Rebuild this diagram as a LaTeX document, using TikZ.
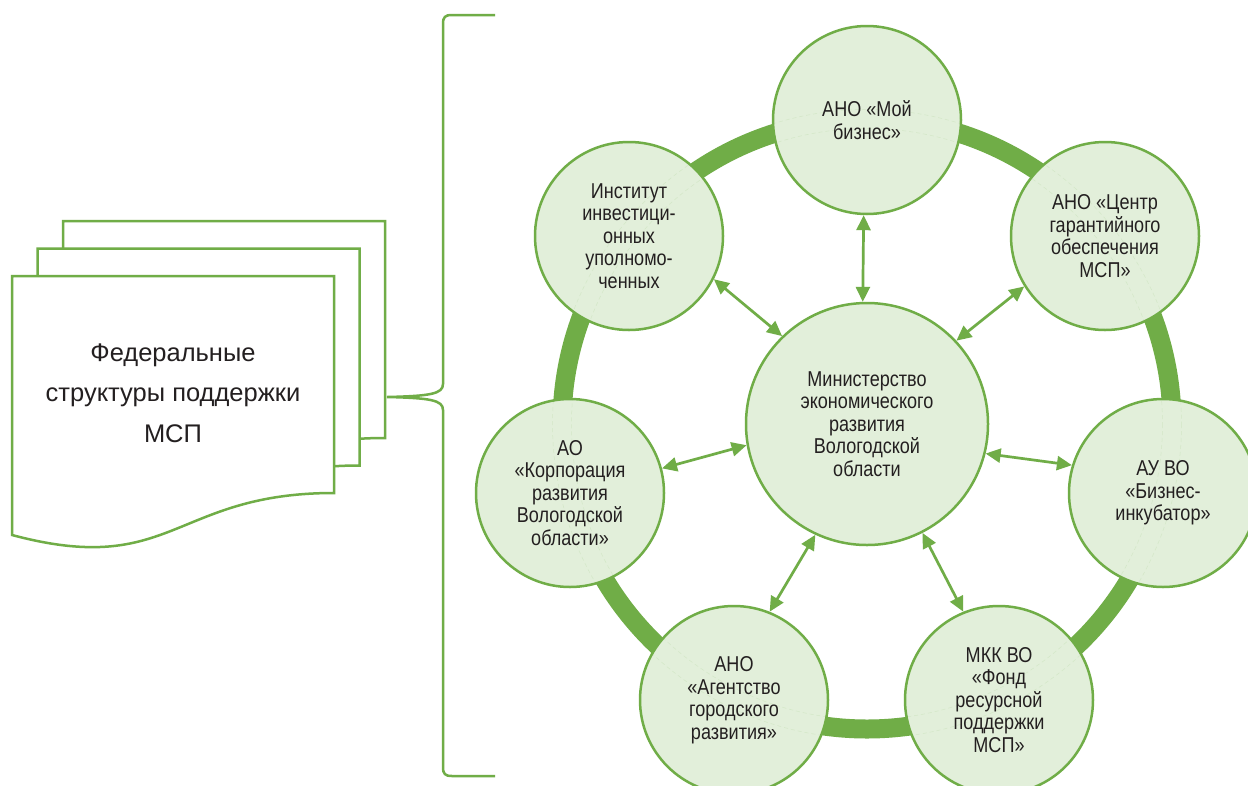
\documentclass[tikz,border=0pt]{standalone}
\usepackage{fontspec}
\setmainfont{Liberation Sans}
\newfontfamily\narrowfont{Liberation Sans}[FakeStretch=0.84]
\usetikzlibrary{arrows.meta}
\definecolor{ogreen}{HTML}{70AD47}
\definecolor{lgreen}{HTML}{E2EFDA}
\definecolor{txt}{HTML}{231F20}
\definecolor{faint}{HTML}{D3E7C7}
\begin{document}
\begin{tikzpicture}[x=1pt,y=-1pt,
  orgbox/.style={circle, draw=ogreen, line width=2.5pt, minimum size=188pt, inner sep=0pt,
    align=center, text=txt, font=\narrowfont\fontsize{21.5}{22.5}\selectfont},
  centerbox/.style={orgbox, minimum size=242pt},
  conn/.style={{Triangle[length=15pt,width=14pt]}-{Triangle[length=15pt,width=14pt]}, draw=ogreen, line width=2.7pt},
  docshape/.style={fill=white, draw=ogreen, line width=2.5pt, line join=miter},
  bracestyle/.style={draw=ogreen, line width=2.5pt},
  faintline/.style={draw=faint, line width=0.5pt, dash pattern=on 4pt off 3pt}
]
\useasboundingbox (0,0) rectangle (1248,785);
\fill[white] (0,0) rectangle (1248,785);

% centres
\coordinate (cC) at (867,424);
\coordinate (cT) at (867,120);
\coordinate (cUL) at (629,236);
\coordinate (cUR) at (1105,236);
\coordinate (cL) at (570,493);
\coordinate (cR) at (1163,493);
\coordinate (cBL) at (734,700);
\coordinate (cBR) at (999,700);

% documents
\foreach \dx/\dy in {51/-55, 25.5/-27.5, 0/0}{
  \draw[docshape, shift={(\dx,\dy)}] (12,276) -- (334,276) -- (334,493)
     .. controls (173,493) and (173,578) .. (12,535) -- cycle;
}
\node[font=\fontsize{25.5}{40.7}\selectfont, align=center, text=txt] (fed) at (173,393)
  {Федеральные\\структуры поддержки\\МСП};

% brace
\coordinate (btip) at (387,397);
\coordinate (btop) at (495,15);
\coordinate (bbot) at (495,776);
\draw[bracestyle] (btop) -- (452,15) .. controls (445,15) and (443,17) .. (443,24) -- (443,384)
   .. controls (443,394) and (430,396) .. (btip)
   .. controls (430,398) and (443,400) .. (443,410) -- (443,767)
   .. controls (443,774) and (445,776) .. (452,776) -- (bbot);

% ring
\draw[ogreen, line width=19pt] (cC) circle (305);

% circle fills and faint ring edges
\foreach \c in {cT,cUL,cUR,cL,cR,cBL,cBR}{
  \fill[lgreen] (\c) circle (94);
  \begin{scope}
    \clip (\c) circle (94);
    \draw[faintline] (cC) circle (295.5);
    \draw[faintline] (cC) circle (314.5);
  \end{scope}
}
\fill[lgreen] (cC) circle (121);

% nodes
\node[centerbox] (C) at (cC) {Министерство\\экономического\\развития\\Вологодской\\области};
\node[orgbox] (T) at (cT) {АНО «Мой\\бизнес»};
\node[orgbox] (UL) at (cUL) {Институт\\инвестици-\\онных\\уполномо-\\ченных};
\node[orgbox] (UR) at (cUR) {АНО «Центр\\гарантийного\\обеспечения\\МСП»};
\node[orgbox] (L) at (cL) {АО\\«Корпорация\\развития\\Вологодской\\области»};
\node[orgbox] (R) at (cR) {АУ ВО\\«Бизнес-\\инкубатор»};
\node[orgbox] (BL) at (cBL) {АНО\\«Агентство\\городского\\развития»};
\node[orgbox] (BR) at (cBR) {МКК ВО\\«Фонд\\ресурсной\\поддержки\\МСП»};

% connectors
\draw[conn] (T.-92) -- (C.92);
\draw[conn] (UL.-27) -- (C.134);
\draw[conn] (UR.212) -- (C.43);
\draw[conn] (R.163) -- (C.-14);
\draw[conn] (L.15) -- (C.190);
\draw[conn] (BL.68) -- (C.245);
\draw[conn] (BR.112) -- (C.-63);
\end{tikzpicture}
\end{document}
